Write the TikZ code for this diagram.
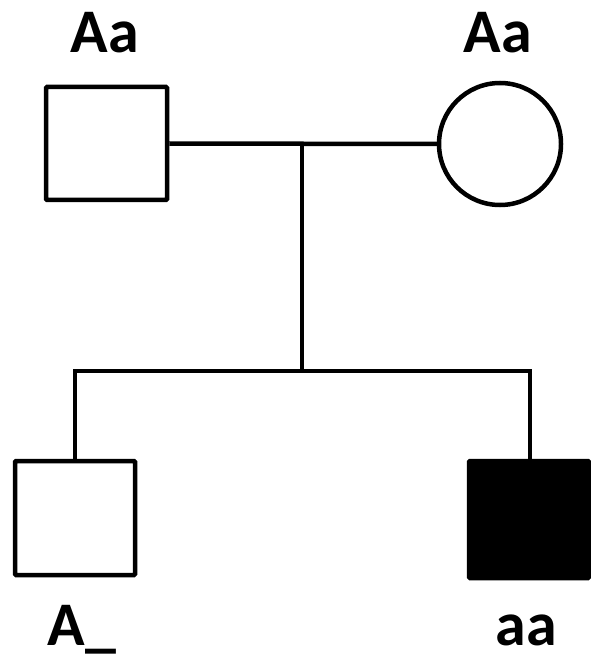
\documentclass[tikz,border=0pt]{standalone}
\usepackage{fontspec}
\setmainfont{Carlito}
\begin{document}
\begin{tikzpicture}[x=1pt,y=-1pt,
  person/.style={draw=black,line width=4.5pt,inner sep=0pt,fill=white},
  male/.style={person,rectangle,rounded corners=1pt},
  female/.style={person,circle,minimum size=122pt},
  affected/.style={fill=black},
  lbl/.style={font=\fontsize{62}{70}\selectfont\bfseries,anchor=base,inner sep=0pt},
  link/.style={line width=4.5pt,line join=miter}]
\useasboundingbox (0,0) rectangle (590,660);
% parents
\node[male,minimum width=121pt,minimum height=113pt] (father) at (106.5,143.5) {};
\node[female] (mother) at (500,144) {};
% children
\node[male,minimum width=120pt,minimum height=114pt] (son1) at (75,518) {};
\node[male,affected,minimum width=120pt,minimum height=117pt] (son2) at (529,519.5) {};
% connectors
\coordinate (mid) at (302,144);
\coordinate (sibL) at (75,371);
\coordinate (sibR) at (530,371);
\coordinate (sibM) at (302,371);
\draw[link] (father.east) -- (mother.west);
\draw[link] (mid) -- (sibM);
\draw[link] (son1.north) -- (sibL) -- (sibR) -- (sibR |- son2.north);
% labels
\node[lbl] (lf) at (105,53) {Aa};
\node[lbl] (lm) at (498,53) {Aa};
\node[lbl] (l1) at (82,645) {A\_};
\node[lbl] (l2) at (526,645) {aa};
\end{tikzpicture}
\end{document}
